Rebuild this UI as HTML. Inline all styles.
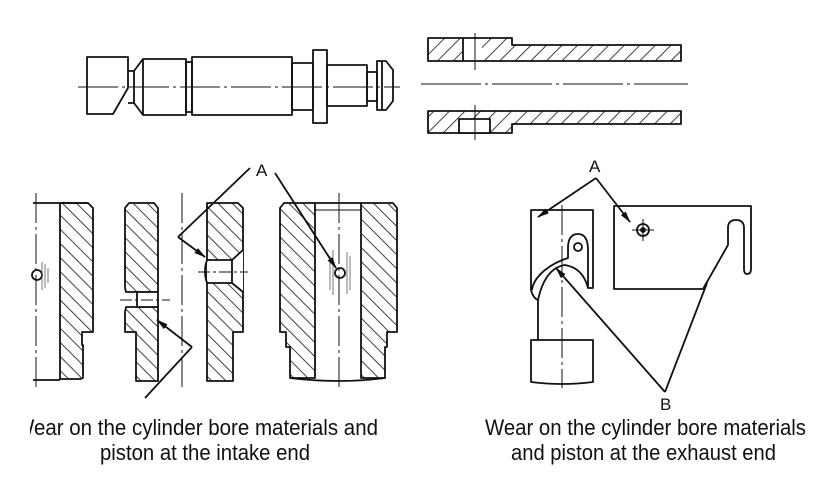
<!DOCTYPE html>
<html><head><meta charset="utf-8"><style>
html,body{margin:0;padding:0;background:#fff;}
svg{display:block;}
text{font-family:"Liberation Sans",Arial,sans-serif;fill:#111;}
</style></head><body>
<svg width="828" height="480" viewBox="0 0 828 480" xmlns="http://www.w3.org/2000/svg">
<defs>
<pattern id="hb" patternUnits="userSpaceOnUse" width="10" height="10" patternTransform="rotate(-45)">
<line x1="0" y1="0" x2="0" y2="10" stroke="#111" stroke-width="1.6"/></pattern>
<pattern id="hf" patternUnits="userSpaceOnUse" width="11" height="11" patternTransform="rotate(45)">
<line x1="0" y1="0" x2="0" y2="11" stroke="#111" stroke-width="1.6"/></pattern>
<marker id="ar" markerWidth="12" markerHeight="8" refX="11" refY="4" orient="auto" markerUnits="userSpaceOnUse">
<path d="M0,1 L12,4 L0,7 Z" fill="#111"/></marker>
</defs>
<g fill="none" stroke="#111" stroke-width="1.8" stroke-linejoin="round">
<!-- piston pin / shaft -->
<path d="M87,57 H128 V88 L113,114 H87 Z" fill="#fff"/>
<path d="M128,71 H134 V103 H128"/>
<path d="M134,71 L143,59 M134,103 L143,115"/>
<rect x="143" y="59" width="43" height="56"/>
<rect x="186" y="62" width="6" height="50"/>
<rect x="192" y="57" width="100" height="58"/>
<rect x="292" y="63" width="21" height="47"/>
<rect x="313" y="50" width="14" height="73"/>
<rect x="327" y="65" width="40" height="41"/>
<rect x="367" y="72" width="10" height="29"/>
<path d="M377,61 H386 L393,70 V101 L386,110 H377 Z"/>
<line x1="382" y1="61" x2="382" y2="110"/>
<line x1="78" y1="87" x2="400" y2="87" stroke-width="1" stroke-dasharray="40,4,3,4"/>

<!-- sleeve -->
<path d="M428,38 H512 V45 H681 V61 H428 Z" fill="url(#hf)"/>
<path d="M428,111 H681 V124 H512 V133 H428 Z" fill="url(#hf)"/>
<rect x="463" y="39" width="19" height="21" fill="#fff" stroke="none"/>
<line x1="463" y1="38" x2="463" y2="61"/>
<rect x="459" y="119" width="31" height="14" fill="#fff"/>
<line x1="475" y1="33" x2="475" y2="70" stroke-width="1"/>
<line x1="475" y1="105" x2="475" y2="140" stroke-width="1"/>
<line x1="421" y1="84" x2="688" y2="84" stroke-width="1" stroke-dasharray="60,4,3,4"/>

<!-- part 1 -->
<line x1="33" y1="203" x2="88" y2="203"/>
<path d="M60,203 H88 L93,208 V332 H82 V345 H83 V378 L80,379 H60 Z" fill="url(#hb)"/>
<line x1="33" y1="380" x2="60" y2="380"/>
<line x1="36" y1="193" x2="36" y2="388" stroke-width="1" stroke-dasharray="30,4,3,4"/>
<circle cx="37" cy="275" r="5"/>
<g stroke-width="0.8" stroke="#555"><line x1="42" y1="262" x2="42" y2="290"/><line x1="45" y1="264" x2="45" y2="288"/><line x1="48" y1="268" x2="48" y2="283"/></g>

<!-- part 2 -->
<path d="M129,203 H154 L158,208 V292 H126 L125,288 V208 Z" fill="url(#hb)"/>
<path d="M126,307 H158 V381 H136 V332 H125 V312 Z" fill="url(#hb)"/>
<rect x="137" y="292" width="21" height="15" fill="#fff"/>
<path d="M207,203 H238 L243,208 V332 H233 V381 H207 Z" fill="url(#hb)"/>
<path d="M207,260 H232 L243,250 V292 L232,283 H207 Z" fill="#fff" stroke="none"/>
<path d="M207,260 H232 V283 H207 M232,260 L243,250 M232,283 L243,292"/>
<path d="M207,260 Q203,271 207,283"/>
<line x1="182" y1="193" x2="182" y2="390" stroke-width="1" stroke-dasharray="30,4,3,4"/>
<line x1="198" y1="272" x2="248" y2="272" stroke-width="1" stroke-dasharray="12,3,3,3"/>
<line x1="120" y1="300" x2="170" y2="300" stroke-width="1" stroke-dasharray="12,3,3,3"/>
<line x1="250" y1="168" x2="178" y2="237"/>
<line x1="178" y1="237" x2="205" y2="257" marker-end="url(#ar)"/>
<line x1="192" y1="347" x2="157" y2="320" marker-end="url(#ar)"/>
<line x1="192" y1="347" x2="145" y2="398"/>

<!-- part 3 -->
<path d="M284,203 H315 V378 H290 V347 H286 V332 H280 V208 Z" fill="url(#hb)"/>
<path d="M361,203 H393 L397,208 V332 H387 V347 H385 V378 H361 Z" fill="url(#hb)"/>
<line x1="315" y1="203" x2="361" y2="203"/>
<path d="M315,210 H361" stroke-width="1"/>
<path d="M290,378 Q339,384 385,378"/>
<line x1="339" y1="193" x2="339" y2="390" stroke-width="1" stroke-dasharray="30,4,3,4"/>
<circle cx="340" cy="273" r="5"/>
<g stroke-width="0.8" stroke="#555"><line x1="333" y1="250" x2="333" y2="295"/><line x1="347" y1="252" x2="347" y2="294"/><line x1="350" y1="256" x2="350" y2="290"/><line x1="330" y1="256" x2="330" y2="290"/></g>
<line x1="275" y1="173" x2="336" y2="268" marker-end="url(#ar)"/>

<!-- exhaust left piece -->
<path d="M531,290 V210 H593 V288 H588 V250 Q588,234 578,234 Q568,234 568,248 V258 Q555,262 545,270 Q533,280 532,290"/>
<path d="M538,300 Q545,268 565,265 Q583,268 588,288"/>
<path d="M531,290 Q533,298 538,300"/>
<line x1="538" y1="300" x2="538" y2="340"/>
<circle cx="578" cy="247" r="4"/>
<path d="M531,340 H593 V382 Q562,386 531,382 Z"/>
<line x1="562" y1="205" x2="562" y2="388" stroke-width="1" stroke-dasharray="30,4,3,4"/>

<!-- exhaust right piece -->
<path d="M614,206 H751 V269 Q751,274 747,274 Q744,274 744,269 V228 Q744,220 736,220 Q728,220 728,228 V245 L703,289 H614 Z"/>
<circle cx="643" cy="230" r="6"/>
<circle cx="643" cy="230" r="2" fill="#111"/>
<line x1="632" y1="230" x2="654" y2="230" stroke-width="1"/>
<line x1="643" y1="219" x2="643" y2="241" stroke-width="1"/>

<line x1="596" y1="178" x2="538" y2="217" marker-end="url(#ar)"/>
<line x1="596" y1="178" x2="630" y2="222" marker-end="url(#ar)"/>
<line x1="665" y1="392" x2="556" y2="268" marker-end="url(#ar)"/>
<line x1="665" y1="392" x2="707" y2="283"/>
</g>
<text x="256" y="176" font-size="17">A</text>
<text x="589" y="172" font-size="17">A</text>
<text x="660" y="410" font-size="17">B</text>
<text x="15" y="435" font-size="22" textLength="363" lengthAdjust="spacingAndGlyphs">Wear on the cylinder bore materials and</text>
<rect x="0" y="410" width="30" height="30" fill="#fff"/>
<text x="100" y="460" font-size="22" textLength="210" lengthAdjust="spacingAndGlyphs">piston at the intake end</text>
<text x="485" y="435" font-size="22" textLength="321" lengthAdjust="spacingAndGlyphs">Wear on the cylinder bore materials</text>
<text x="511" y="460" font-size="22" textLength="265" lengthAdjust="spacingAndGlyphs">and piston at the exhaust end</text>
</svg>
</body></html>
